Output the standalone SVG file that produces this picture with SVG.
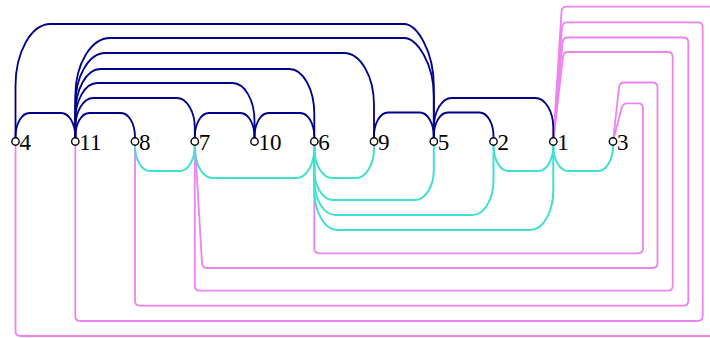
<svg xmlns="http://www.w3.org/2000/svg" width="710" height="338" viewBox="0 0 710 338">
<style>
.e{fill:none;stroke-width:1.8}
.b{stroke:#00008b}
.t{stroke:#40e0d0;stroke-width:2}
.v{stroke:#ee82ee}
.n circle{fill:#fff;stroke:#000;stroke-width:1.4}
.n text{font-family:"Liberation Serif","DejaVu Serif",serif;font-size:23px;fill:#000}
</style>
<rect width="710" height="338" fill="#fff"/>
<g id="connectors">
<g id="violet">
<path class="e v" d="M314.3,141.5 V248.3 Q314.3,253.3 319.3,253.3 H638 Q643,253.3 643,248.3 V108.3 Q643,103.3 638,103.3 H627 Q622.8,103.3 621.5,108.3 L613,141.5"/>
<path class="e v" d="M194.8,141.5 L202,263 Q202.3,268 207.3,268 H652.5 Q657.5,268 657.5,263 V87.5 Q657.5,82.5 652.5,82.5 H624 Q619.6,82.5 619,87.5 L613,141.5"/>
<path class="e v" d="M194.8,141.5 V285.7 Q194.8,290.7 199.8,290.7 H667.7 Q672.7,290.7 672.7,285.7 V57 Q672.7,52 667.7,52 H568 Q563.6,52 563,57 L553.3,141.5"/>
<path class="e v" d="M135,141.5 V300.7 Q135,305.7 140,305.7 H683.3 Q688.3,305.7 688.3,300.7 V42.5 Q688.3,37.5 683.3,37.5 H567.5 Q563,37.5 562.5,42.5 L553.3,141.5"/>
<path class="e v" d="M75.3,141.5 V316 Q75.3,321 80.3,321 H697.7 Q702.7,321 702.7,316 V27.3 Q702.7,22.3 697.7,22.3 H567 Q562.5,22.3 562,27.3 L553.3,141.5"/>
<path class="e v" d="M15.5,141.5 V331 Q15.5,336 20.5,336 H713 Q718,336 718,331 V11.7 Q718,6.7 713,6.7 H566.5 Q562,6.7 561.5,11.7 L553.3,141.5"/>
</g>
<g id="turquoise">
<path class="e t" d="M135,141.5 V146 C135,159.8 141.8,171 150,171 H179.8 C188,171 194.8,159.8 194.8,146 V141.5"/>
<path class="e t" d="M194.8,141.5 V148 C194.8,164.5 202.9,178 212.8,178 H296.3 C306.2,178 314.3,164.5 314.3,148 V141.5"/>
<path class="e t" d="M314.3,141.5 V148 C314.3,164.5 322.4,178 332.3,178 H356 C365.9,178 374,164.5 374,148 V141.5"/>
<path class="e t" d="M314.3,141.5 V170 C314.3,186.5 322.9,200 333.3,200 H414.8 C425.2,200 433.8,186.5 433.8,170 V141.5"/>
<path class="e t" d="M314.3,141.5 V180 C314.3,199.3 323.8,215 335.3,215 H472.5 C484.1,215 493.5,199.3 493.5,180 V141.5"/>
<path class="e t" d="M314.3,141.5 V190 C314.3,212 324.7,230 337.3,230 H530.3 C543,230 553.3,212 553.3,190 V141.5"/>
<path class="e t" d="M493.5,141.5 V146 C493.5,159.8 500.3,171 508.5,171 H538.3 C546.5,171 553.3,159.8 553.3,146 V141.5"/>
<path class="e t" d="M553.3,141.5 V146 C553.3,159.8 560.1,171 568.3,171 H598 C606.2,171 613,159.8 613,146 V141.5"/>
</g>
<g id="blue">
<path class="e b" d="M15.5,141.5 V137 C15.5,123.8 21.8,113 29.5,113 H61.3 C69,113 75.3,123.8 75.3,137 V141.5"/>
<path class="e b" d="M75.3,141.5 V137 C75.3,123.8 81.6,113 89.3,113 H121 C128.7,113 135,123.8 135,137 V141.5"/>
<path class="e b" d="M194.8,141.5 V137 C194.8,123.8 201.1,113 208.8,113 H240.5 C248.2,113 254.5,123.8 254.5,137 V141.5"/>
<path class="e b" d="M254.5,141.5 V137 C254.5,123.8 260.8,113 268.5,113 H300.3 C308,113 314.3,123.8 314.3,137 V141.5"/>
<path class="e b" d="M374,141.5 V136.5 C374,123.3 380.3,112.5 388,112.5 H419.8 C427.5,112.5 433.8,123.3 433.8,136.5 V141.5"/>
<path class="e b" d="M433.8,141.5 V136.5 C433.8,123.3 440.1,112.5 447.8,112.5 H479.5 C487.2,112.5 493.5,123.3 493.5,136.5 V141.5"/>
<path class="e b" d="M75.3,141.5 V128 C75.3,111.5 83.4,98 93.3,98 H176.8 C186.7,98 194.8,111.5 194.8,128 V141.5"/>
<path class="e b" d="M433.8,141.5 V128 C433.8,111.5 441.9,98 451.8,98 H535.3 C545.2,98 553.3,111.5 553.3,128 V141.5"/>
<path class="e b" d="M75.3,141.5 V121 C75.3,100.1 85.2,83 97.3,83 H232.5 C244.6,83 254.5,100.1 254.5,121 V141.5"/>
<path class="e b" d="M75.3,141.5 V114 C75.3,89.3 86.6,69 100.3,69 H289.3 C303.1,69 314.3,89.3 314.3,114 V141.5"/>
<path class="e b" d="M75.3,141.5 V105 C75.3,76.4 88.8,53 105.3,53 H344 C360.5,53 374,76.4 374,105 V141.5"/>
<path class="e b" d="M75.3,141.5 V96 C75.3,64.1 91,38 110.3,38 H403.8 C417.3,38 433.8,64.1 433.8,96 V141.5"/>
<path class="e b" d="M15.5,141.5 V86 C15.5,51.9 31.3,24 50.5,24 H403.8 C417.3,24 433.8,51.9 433.8,86 V141.5"/>
</g>
</g>
<g id="n4" class="n"><circle cx="15.5" cy="141.5" r="3.7"/><text x="19.5" y="150">4</text></g>
<g id="n11" class="n"><circle cx="75.3" cy="141.5" r="3.7"/><text x="79.3" y="150">11</text></g>
<g id="n8" class="n"><circle cx="135" cy="141.5" r="3.7"/><text x="139" y="150">8</text></g>
<g id="n7" class="n"><circle cx="194.8" cy="141.5" r="3.7"/><text x="198.8" y="150">7</text></g>
<g id="n10" class="n"><circle cx="254.5" cy="141.5" r="3.7"/><text x="258.5" y="150">10</text></g>
<g id="n6" class="n"><circle cx="314.3" cy="141.5" r="3.7"/><text x="318.3" y="150">6</text></g>
<g id="n9" class="n"><circle cx="374" cy="141.5" r="3.7"/><text x="378" y="150">9</text></g>
<g id="n5" class="n"><circle cx="433.8" cy="141.5" r="3.7"/><text x="437.8" y="150">5</text></g>
<g id="n2" class="n"><circle cx="493.5" cy="141.5" r="3.7"/><text x="497.5" y="150">2</text></g>
<g id="n1" class="n"><circle cx="553.3" cy="141.5" r="3.7"/><text x="557.3" y="150">1</text></g>
<g id="n3" class="n"><circle cx="613" cy="141.5" r="3.7"/><text x="617" y="150">3</text></g>
</svg>
